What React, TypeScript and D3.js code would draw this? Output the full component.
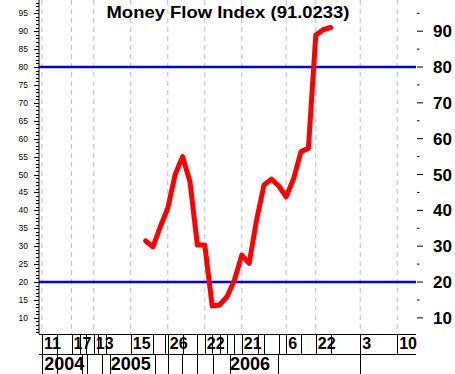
import React from "react";
import * as d3 from "d3";

const TITLE = "Money Flow Index (91.0233)";
// index positions of weekly values and their MFI values
const mfiIndex = [14,15,16,17,18,19,20,21,22,23,24,25,26,27,28,29,30,31,32,33,34,35,36,37,38,39];
const mfiValues = [31.5,29.8,35.5,40.6,50.0,55.0,48.0,30.3,30.3,13.3,13.6,15.9,20.5,27.5,25.2,37.3,47.1,48.7,46.8,43.8,48.8,56.4,57.3,88.9,90.4,91.0233];
const levels = [80, 20];
const gridIdx = [0, 4, 7, 12, 17, 22, 27, 33, 37, 43, 48];
const dayLabels = ["11", "17", "13", "15", "26", "22", "21", "6", "22", "3", "10"];
const yearIdx = [0.3, 9.3, 25.4];
const yearLabels = ["2004", "2005", "2006"];
const row1Seps = [0, 2, 4, 5.1, 6, 7, 7.6, 8.6, 12, 15, 16.6, 17, 19, 21, 22, 23, 24, 25, 26, 27, 29.2, 30, 32, 33, 35, 37, 39, 43, 48];
const row2Seps = [0, 2, 5.4, 6.1, 8.1, 9.2, 15.3, 17, 18.9, 21, 23.1, 25.4, 31.9, 43];
const leftLabels = [10,15,20,25,30,35,40,45,50,55,60,65,70,75,80,85,90,95];
const rightLabels = [10,20,30,40,50,60,70,80,90];

const W = 455, H = 374;
const L = 39, R = 416, T = 0, B = 334;
const FONT = "'Liberation Sans', Arial, sans-serif";

export default function App() {
  const x = d3.scaleLinear().domain([-0.4, 50.54]).range([L, R]);
  const y = d3.scaleLinear().domain([5.5, 98.7]).range([B, T]);
  const line = d3.line<number>().x((_, i) => x(mfiIndex[i])).y((d) => y(d));
  const minor = d3.range(6, 99, 1);
  const rightMinor = d3.range(15, 100, 10);

  return (
    <svg width={W} height={H} style={{ position: "absolute", left: 0, top: 0, background: "#fff" }}>
      <defs>
        <clipPath id="axclip"><rect x={L} y={B} width={R - L + 1} height={H - B} /></clipPath>
      </defs>
      <rect x={0} y={0} width={W} height={H} fill="#fff" />
      {gridIdx.map((g, i) => (
        <line key={"g" + i} x1={x(g)} x2={x(g)} y1={T} y2={B} stroke="#bdbdbd" strokeDasharray="5,4" />
      ))}
      {levels.map((v) => (
        <line key={"lv" + v} x1={L} x2={R} y1={y(v)} y2={y(v)} stroke="#0000ff" strokeWidth={2.5} />
      ))}
      <path d={line(mfiValues) || ""} fill="none" stroke="#ff0000" strokeWidth={5} strokeLinejoin="round" strokeLinecap="round" />
      <text x={228} y={18} textAnchor="middle" fontFamily={FONT} fontWeight="bold" fontSize={17} textLength={243} lengthAdjust="spacingAndGlyphs">{TITLE}</text>

      {/* left axis */}
      <line x1={L} x2={L} y1={T} y2={B} stroke="#000" />
      {minor.map((v) => (
        <line key={"m" + v} x1={v % 5 === 0 ? L - 5 : L - 3} x2={L} y1={Math.round(y(v)) + 0.5} y2={Math.round(y(v)) + 0.5} stroke="#000" />
      ))}
      {leftLabels.map((v) => (
        <text key={"ll" + v} x={28} y={y(v)} dy="0.35em" textAnchor="end" fontFamily={FONT} fontSize={8.5}>{v}</text>
      ))}

      {/* right axis */}
      {rightLabels.map((v) => (
        <g key={"r" + v}>
          <line x1={417} x2={423} y1={y(v)} y2={y(v)} stroke="#000" />
          <text x={433} y={y(v)} dy="0.36em" fontFamily={FONT} fontWeight="bold" fontSize={17}>{v}</text>
        </g>
      ))}
      {rightMinor.map((v) => (
        <line key={"rm" + v} x1={417} x2={419.5} y1={y(v)} y2={y(v)} stroke="#000" />
      ))}

      {/* bottom date table */}
      <g clipPath="url(#axclip)">
        <line x1={L} x2={R} y1={B + 0.5} y2={B + 0.5} stroke="#000" />
        <line x1={L} x2={R} y1={354.5} y2={354.5} stroke="#000" />
        {row1Seps.map((s, i) => (
          <line key={"s1" + i} x1={Math.round(x(s)) + 0.5} x2={Math.round(x(s)) + 0.5} y1={B} y2={354} stroke="#000" />
        ))}
        {row2Seps.map((s, i) => (
          <line key={"s2" + i} x1={Math.round(x(s)) + 0.5} x2={Math.round(x(s)) + 0.5} y1={354} y2={H} stroke="#000" />
        ))}
        {dayLabels.map((t, i) => (
          <text key={"d" + i} x={x(gridIdx[i]) + 2} y={349} fontFamily={FONT} fontWeight="bold" fontSize={16}>{t}</text>
        ))}
        {yearLabels.map((t, i) => (
          <text key={"yr" + i} x={x(yearIdx[i])} y={370} fontFamily={FONT} fontWeight="bold" fontSize={18}>{t}</text>
        ))}
      </g>
    </svg>
  );
}
